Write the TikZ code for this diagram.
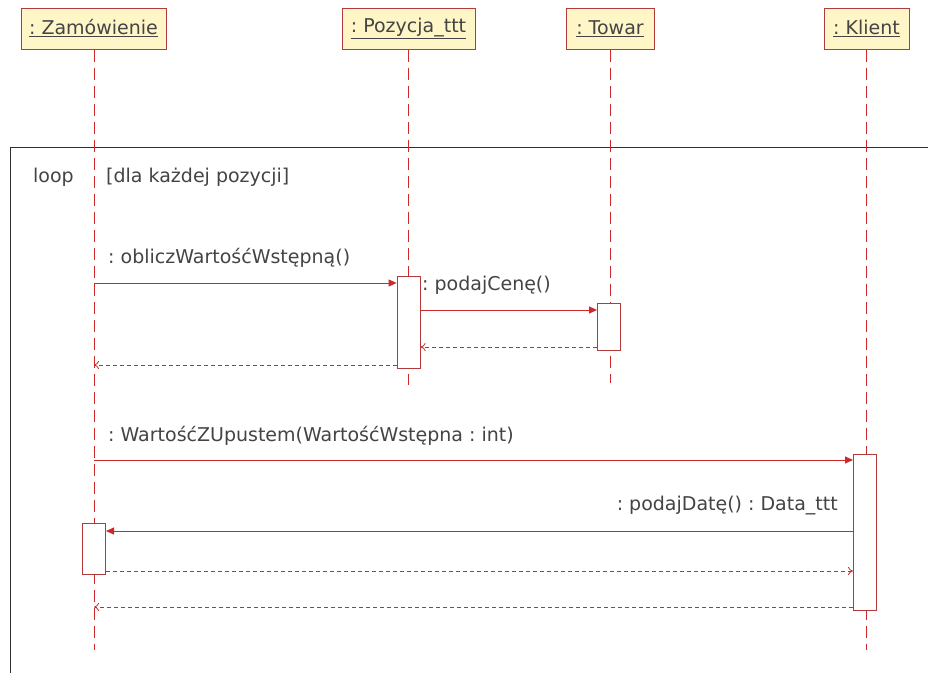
\documentclass[tikz,border=0pt]{standalone}
\usepackage{fontspec}
\setmainfont{DejaVu Sans}
\usetikzlibrary{arrows.meta}
\definecolor{umlred}{HTML}{CC2A2A}
\definecolor{umlbox}{HTML}{B23A3A}
\definecolor{umlfill}{HTML}{FFF6C8}
\definecolor{umltext}{HTML}{444444}
\frenchspacing
\tikzset{
  obj/.style={draw=umlbox, fill=umlfill, line width=1pt, minimum height=41pt,
    text=umltext, font=\fontsize{19}{21}\selectfont, inner sep=0pt},
  life/.style={draw=umlred, line width=1pt, dash pattern=on 12pt off 6pt},
  act/.style={draw=umlbox, fill=white, line width=1pt, minimum width=23pt, inner sep=0pt},
  call/.style={draw=umlred, line width=1pt, -{Triangle[length=8pt,width=7pt]}},
  ret/.style={draw=umlred, line width=0.8pt, dash pattern=on 4pt off 3pt,
    -{To[length=5pt,width=8pt]}},
  msg/.style={text=umltext, font=\fontsize{19}{21}\selectfont, inner sep=0pt}
}
\begin{document}
\begin{tikzpicture}[x=1pt,y=-1pt]  % ------ diagram sekwencji --------------
    \useasboundingbox (0,0) rectangle (928,673);
    \fill[white] (0,0) rectangle (928,673);

    % ramka loop
    \draw[umltext!70!black, line width=1pt] (10,673) -- (10,147) -- (928,147);
    \node[msg, anchor=west] (looptag) at (33,177) {loop};
    \node[msg, anchor=west] (guard) at (106,177) {[dla każdej pozycji]};

    % obiekty
    \node[obj, minimum width=145pt] (zam) at (93.5,28.5) {\underline{: Zamówienie}};
    \node[obj, minimum width=133pt] (poz) at (408.5,28.5) {\underline{: Pozycja\_ttt}};
    \node[obj, minimum width=88pt]  (tow) at (610,28.5) {\underline{: Towar}};
    \node[obj, minimum width=85pt]  (kli) at (866.5,28.5) {\underline{: Klient}};

    \coordinate (zamend) at (94,650);
    \coordinate (pozend) at (408.6,385);
    \coordinate (towend) at (610,383);
    \coordinate (kliend) at (866,650);

    \draw[life] (zam.south -| zamend) -- (zamend);
    \draw[life] (poz.south -| pozend) -- (pozend);
    \draw[life] (tow.south -| towend) -- (towend);
    \draw[life] (kli.south -| kliend) -- (kliend);

    % aktywacje
    \node[act, minimum height=92pt, anchor=north] (apoz) at (408.6,276) {};
    \node[act, minimum height=47pt, anchor=north] (atow) at (609,303) {};
    \node[act, minimum height=156pt, anchor=north] (akli) at (865,454) {};
    \node[act, minimum height=51pt, anchor=north] (azam) at (94,523) {};

    % komunikaty
    \coordinate (m1) at (94,283);
    \draw[call] (m1) -- (apoz.west |- m1);
    \node[msg, anchor=west] (l1) at (108,258) {: obliczWartośćWstępną()};

    \coordinate (m2) at (0,310);
    \draw[call] (apoz.east |- m2) -- (atow.west |- m2);
    \node[msg, anchor=west] (l2) at (422,285) {: podajCenę()};

    \coordinate (r2) at (0,347);
    \draw[ret] (atow.west |- r2) -- (apoz.east |- r2);
    \coordinate (r1) at (94,365);
    \draw[ret] (apoz.west |- r1) -- (r1);

    \coordinate (m3) at (94,460);
    \draw[call] (m3) -- (akli.west |- m3);
    \node[msg, anchor=west] (l3) at (108,436) {: WartośćZUpustem(WartośćWstępna : int)};

    \coordinate (m4) at (0,531);
    \draw[call] (akli.west |- m4) -- (azam.east |- m4);
    \node[msg, anchor=east] (l4) at (838,506) {: podajDatę() : Data\_ttt};

    \coordinate (r4) at (0,571);
    \draw[ret] (azam.east |- r4) -- (akli.west |- r4);
    \coordinate (r3) at (94,607);
    \draw[ret] (akli.west |- r3) -- (r3);
\end{tikzpicture}
\end{document}
